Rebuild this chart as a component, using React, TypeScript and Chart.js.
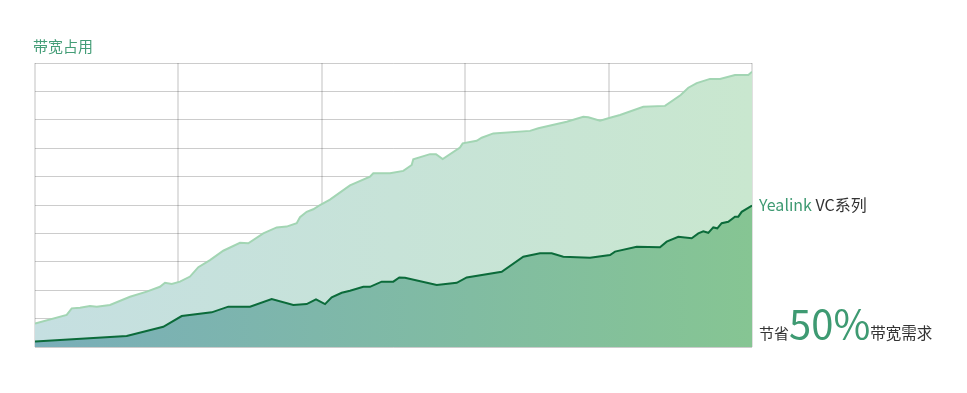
import React, { useEffect, useRef } from "react";
import { Chart, registerables } from "chart.js";

Chart.register(...registerables);

// Bandwidth usage, upper (conventional) curve
const upperX = [0, 4.42, 5.12, 6.28, 7.67, 8.61, 10.46, 13.25, 15.58, 17.43, 18.13, 19.07, 20.22, 21.62, 22.78, 24.41, 26.26, 28.59, 29.75, 31.84, 33.71, 35.1, 36.5, 36.96, 37.89, 38.81, 39.75, 41.14, 43.93, 46.72, 47.18, 49.51, 51.37, 52.54, 52.76, 55.09, 55.93, 56.86, 59.27, 59.65, 61.6, 62.3, 63.92, 69.04, 70.2, 74.16, 76.47, 77.17, 78.8, 80.2, 81.59, 84.84, 87.87, 90.06, 91.12, 92.29, 94.14, 95.54, 97.63, 99.49, 100];
const upperY = [0.83, 1.13, 1.36, 1.38, 1.44, 1.42, 1.48, 1.77, 1.95, 2.12, 2.26, 2.22, 2.3, 2.48, 2.81, 3.06, 3.39, 3.67, 3.65, 4.0, 4.21, 4.24, 4.36, 4.57, 4.76, 4.85, 5.0, 5.19, 5.69, 6.0, 6.12, 6.12, 6.2, 6.41, 6.61, 6.79, 6.79, 6.62, 7.02, 7.17, 7.26, 7.37, 7.52, 7.61, 7.7, 7.93, 8.11, 8.09, 7.97, 8.07, 8.17, 8.46, 8.49, 8.87, 9.13, 9.29, 9.44, 9.44, 9.58, 9.58, 9.69];

// Yealink VC series curve
const lowerX = [0, 12.79, 17.89, 20.46, 24.64, 26.96, 29.99, 33.01, 36.03, 37.89, 39.19, 40.45, 41.38, 42.78, 43.93, 45.79, 46.72, 48.35, 49.97, 50.81, 51.6, 56.03, 58.82, 60.21, 65.09, 68.1, 70.43, 72.06, 73.68, 77.41, 80.2, 80.89, 83.92, 87.17, 88.1, 89.72, 91.59, 92.51, 93.21, 93.9, 94.6, 95.16, 95.77, 96.69, 97.63, 98.09, 98.56, 100];
const lowerY = [0.19, 0.39, 0.71, 1.09, 1.22, 1.42, 1.42, 1.69, 1.48, 1.51, 1.68, 1.51, 1.75, 1.91, 1.98, 2.12, 2.12, 2.3, 2.3, 2.45, 2.44, 2.18, 2.26, 2.45, 2.65, 3.18, 3.3, 3.3, 3.18, 3.14, 3.24, 3.36, 3.53, 3.51, 3.71, 3.88, 3.83, 4.0, 4.07, 4.02, 4.21, 4.18, 4.36, 4.41, 4.59, 4.59, 4.76, 4.98];

const titleText = "带宽占用";
const seriesLabel = ["Yealink", " VC系列"];
const savingText = ["节省", "50%", "带宽需求"];

function gradient(colorLeft: string, colorRight: string) {
  return (ctx: any) => {
    const chart = ctx.chart;
    const area = chart.chartArea;
    if (!area) return colorLeft;
    const g = chart.ctx.createLinearGradient(area.left, 0, area.right, 0);
    g.addColorStop(0, colorLeft);
    g.addColorStop(1, colorRight);
    return g;
  };
}

export default function App() {
  const ref = useRef<HTMLCanvasElement>(null);

  useEffect(() => {
    if (!ref.current) return;
    const chart = new Chart(ref.current, {
      type: "line",
      data: {
        datasets: [
          {
            label: "Yealink VC",
            data: lowerX.map((x, i) => ({ x, y: lowerY[i] })),
            borderColor: "#0b6b3a",
            borderWidth: 2,
            pointRadius: 0,
            tension: 0,
            fill: "origin",
            backgroundColor: gradient("#79aeb9", "#86c593"),
          },
          {
            label: "Other",
            data: upperX.map((x, i) => ({ x, y: upperY[i] })),
            borderColor: "#a2d5b3",
            borderWidth: 2,
            pointRadius: 0,
            tension: 0,
            fill: "origin",
            backgroundColor: gradient("#c5dfe1", "#c9e7cf"),
          },
        ],
      },
      options: {
        animation: false,
        responsive: false,
        layout: { padding: { left: 35, right: 215, top: 63, bottom: 46 } },
        plugins: { legend: { display: false }, tooltip: { enabled: false } },
        scales: {
          x: {
            type: "linear",
            min: 0,
            max: 100,
            z: 1,
            ticks: { display: false, stepSize: 20 },
            grid: { color: "rgba(0,0,0,0.12)", lineWidth: 2, drawTicks: false },
            border: { display: false },
          },
          y: {
            min: 0,
            max: 10,
            z: 1,
            ticks: { display: false, stepSize: 1 },
            grid: { color: "rgba(0,0,0,0.2)", lineWidth: 1, drawTicks: false },
            border: { display: false },
          },
        },
      },
    });
    return () => chart.destroy();
  }, []);

  const font = "'Noto Sans CJK SC', 'Open Sans', sans-serif";
  return (
    <div style={{ position: "fixed", left: 0, top: 0, width: 967, height: 393, background: "#fff", fontFamily: font }}>
      <canvas ref={ref} width={967} height={393} style={{ position: "absolute", left: 0, top: 0 }} />
      <div style={{ position: "absolute", left: 33, top: 35, fontSize: 15, lineHeight: "22px", color: "#449d77" }}>{titleText}</div>
      <div style={{ position: "absolute", left: 759, top: 191, fontSize: 16, lineHeight: "26px", whiteSpace: "nowrap" }}>
        <span style={{ color: "#3e9a72" }}>{seriesLabel[0]}</span>
        <span style={{ color: "#333" }}>{seriesLabel[1]}</span>
      </div>
      <div style={{ position: "absolute", left: 759, top: 300, height: 44, display: "flex", alignItems: "baseline", whiteSpace: "nowrap" }}>
        <span style={{ fontSize: 15, color: "#333" }}>{savingText[0]}</span>
        <span style={{ fontSize: 40, color: "#3e9a72", lineHeight: "44px" }}>{savingText[1]}</span>
        <span style={{ fontSize: 15.5, color: "#333" }}>{savingText[2]}</span>
      </div>
    </div>
  );
}
